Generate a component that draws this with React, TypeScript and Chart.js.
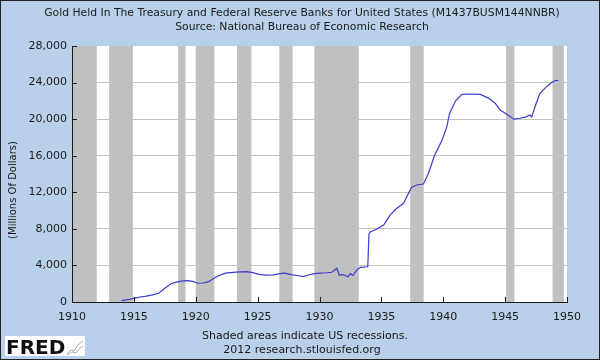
import React, { useEffect, useRef } from "react";
import { Chart, registerables } from "chart.js";

Chart.register(...registerables);

const TITLE = "Gold Held In The Treasury and Federal Reserve Banks for United States (M1437BUSM144NNBR)";
const SUBTITLE = "Source: National Bureau of Economic Research";
const Y_LABEL = "(Millions Of Dollars)";
const FOOT1 = "Shaded areas indicate US recessions.";
const FOOT2 = "2012 research.stlouisfed.org";
const LOGO = "FRED";

// decimal years
const dates = [
  1914.0, 1914.5, 1915.0, 1915.5, 1916.0, 1916.5, 1917.0, 1917.5, 1918.0, 1918.5,
  1919.0, 1919.4, 1919.8, 1920.2, 1920.6, 1921.0, 1921.4, 1921.8, 1922.4, 1923.0,
  1923.6, 1924.1, 1924.6, 1925.2, 1925.7, 1926.3, 1926.8, 1927.2, 1927.7, 1928.2,
  1928.7, 1929.1, 1929.5, 1930.0, 1930.6, 1931.0, 1931.4, 1931.6, 1931.8, 1932.0,
  1932.3, 1932.5, 1932.7, 1932.9, 1933.1, 1933.3, 1933.9, 1934.0, 1934.1, 1934.6,
  1935.2, 1935.7, 1936.2, 1936.8, 1937.05, 1937.45, 1937.85, 1938.4, 1938.8, 1939.3,
  1939.9, 1940.3, 1940.5, 1941.0, 1941.5, 1942.2, 1943.0, 1943.65, 1944.2, 1944.6,
  1945.1, 1945.7, 1946.2, 1946.7, 1947.0, 1947.15, 1947.4, 1947.8, 1948.35, 1948.75,
  1949.0, 1949.3,
];
// millions of dollars
const gold = [
  150, 250, 400, 550, 650, 780, 950, 1500, 2000, 2200,
  2300, 2330, 2220, 2050, 2080, 2200, 2550, 2850, 3150, 3250,
  3300, 3320, 3220, 3000, 2950, 2970, 3100, 3150, 3000, 2900,
  2770, 2950, 3080, 3150, 3200, 3250, 3680, 2950, 3000, 2950,
  2770, 3100, 2900, 3300, 3600, 3780, 3850, 7500, 7650, 7950,
  8450, 9500, 10200, 10800, 11500, 12550, 12800, 12900, 14050, 16050,
  17700, 19200, 20600, 22000, 22700, 22750, 22700, 22300, 21750, 21000,
  20550, 20000, 20100, 20250, 20450, 20250, 21300, 22800, 23550, 24000,
  24200, 24250,
];

const recessionStarts = [1910.0, 1913.0, 1918.58, 1920.0, 1923.33, 1926.75, 1929.58, 1937.33, 1945.08, 1948.83];
const recessionEnds = [1912.0, 1914.92, 1919.17, 1921.5, 1924.5, 1927.83, 1933.17, 1938.42, 1945.75, 1949.75];

const X_MIN = 1910;
const X_MAX = 1950;
const X_STEP = 5;
const Y_MIN = 0;
const Y_MAX = 28000;
const Y_STEP = 4000;

const BG = "#b8d0ea";
const TEXT = "#1a1a1a";
const FONT = "'DejaVu Sans', Verdana, sans-serif";

const decorPlugin = {
  id: "decor",
  beforeDraw(chart: any) {
    const { ctx, chartArea: a } = chart;
    const x = chart.scales.x;
    ctx.save();
    ctx.fillStyle = BG;
    ctx.fillRect(0, 0, chart.width, chart.height);
    ctx.fillStyle = "#ffffff";
    ctx.fillRect(a.left, a.top, a.right - a.left, a.bottom - a.top);
    ctx.fillStyle = "#c0c0c0";
    for (let i = 0; i < recessionStarts.length; i++) {
      const x0 = x.getPixelForValue(recessionStarts[i]);
      const x1 = x.getPixelForValue(recessionEnds[i]);
      ctx.fillRect(x0, a.top, x1 - x0, a.bottom - a.top);
    }
    ctx.restore();
  },
  afterDraw(chart: any) {
    const { ctx, chartArea: a } = chart;
    const x = chart.scales.x;
    const y = chart.scales.y;
    ctx.save();
    // inner tick marks
    ctx.strokeStyle = TEXT;
    ctx.lineWidth = 1;
    ctx.beginPath();
    for (let v = X_MIN + X_STEP; v <= X_MAX; v += X_STEP) {
      const px = Math.round(x.getPixelForValue(v)) + 0.5;
      ctx.moveTo(px, a.bottom);
      ctx.lineTo(px, a.bottom - 5);
    }
    for (let v = Y_MIN + Y_STEP; v <= Y_MAX; v += Y_STEP) {
      const py = Math.round(y.getPixelForValue(v)) + 0.5;
      ctx.moveTo(a.left, py);
      ctx.lineTo(a.left + 5, py);
    }
    ctx.stroke();

    // titles
    ctx.fillStyle = TEXT;
    ctx.textAlign = "center";
    ctx.textBaseline = "middle";
    ctx.font = `10.8px ${FONT}`;
    ctx.fillText(TITLE, 302, 13);
    ctx.fillText(SUBTITLE, 302, 27);
    ctx.font = `11px ${FONT}`;
    ctx.fillText(FOOT1, 305, 336);
    ctx.fillText(FOOT2, 302, 350);

    // y label
    ctx.save();
    ctx.translate(13, 190);
    ctx.rotate(-Math.PI / 2);
    ctx.font = `10px ${FONT}`;
    ctx.fillText(Y_LABEL, 0, 0);
    ctx.restore();

    // FRED logo
    ctx.fillStyle = "#ffffff";
    ctx.fillRect(5, 336, 80, 20);
    ctx.fillStyle = "#111111";
    ctx.font = `bold 20px ${FONT}`;
    ctx.textAlign = "left";
    ctx.textBaseline = "alphabetic";
    ctx.fillText(LOGO, 6, 354);
    ctx.strokeStyle = "#9cb89c";
    ctx.lineWidth = 1;
    ctx.beginPath();
    ctx.moveTo(67, 354);
    ctx.lineTo(71, 350);
    ctx.lineTo(74, 351);
    ctx.lineTo(78, 345);
    ctx.lineTo(83, 341);
    ctx.stroke();
    ctx.strokeStyle = "#b0b0b0";
    ctx.beginPath();
    ctx.moveTo(67, 355);
    ctx.lineTo(72, 352);
    ctx.lineTo(76, 353);
    ctx.lineTo(80, 348);
    ctx.lineTo(83, 346);
    ctx.stroke();
    ctx.restore();
  },
};

export default function App() {
  const canvasRef = useRef<HTMLCanvasElement | null>(null);

  useEffect(() => {
    if (!canvasRef.current) return;
    const points = dates.map((d, i) => ({ x: d, y: gold[i] }));
    const chart = new Chart(canvasRef.current, {
      type: "line",
      data: {
        datasets: [
          {
            data: points,
            borderColor: "#3b3bcc",
            borderWidth: 1.2,
            pointRadius: 0,
            tension: 0,
            fill: false,
          },
        ],
      },
      options: {
        animation: false,
        responsive: false,
        devicePixelRatio: 1,
        layout: { padding: { top: 46, right: 33, left: 0, bottom: 0 } },
        plugins: { legend: { display: false }, tooltip: { enabled: false } },
        scales: {
          x: {
            type: "linear",
            min: X_MIN,
            max: X_MAX,
            afterFit: (s: any) => {
              s.height = 58;
            },
            ticks: {
              stepSize: X_STEP,
              color: TEXT,
              font: { family: FONT, size: 11 },
              padding: 9,
              maxRotation: 0,
              callback: (v: any) => String(v),
            },
            grid: { display: false, drawTicks: false },
            border: { display: true, color: TEXT, width: 1 },
          },
          y: {
            min: Y_MIN,
            max: Y_MAX,
            afterFit: (s: any) => {
              s.width = 72;
            },
            ticks: {
              stepSize: Y_STEP,
              color: TEXT,
              font: { family: FONT, size: 11 },
              padding: 5,
              callback: (v: any) => Number(v).toLocaleString("en-US"),
            },
            grid: {
              drawTicks: false,
              color: (c: any) =>
                c.tick && (c.tick.value === Y_MAX || c.tick.value === Y_MIN) ? "rgba(0,0,0,0)" : "#c4c4c4",
              lineWidth: 1,
            },
            border: { display: true, color: TEXT, width: 1 },
          },
        },
      },
      plugins: [decorPlugin],
    });
    return () => chart.destroy();
  }, []);

  return (
    <div style={{ position: "relative", width: 600, height: 360 }}>
      <style>{"body{margin:0}"}</style>
      <canvas ref={canvasRef} width={600} height={360} style={{ display: "block" }} />
      <div
        style={{
          position: "absolute",
          left: 0,
          top: 0,
          width: 600,
          height: 360,
          boxSizing: "border-box",
          border: "1px solid #222",
          pointerEvents: "none",
        }}
      />
    </div>
  );
}
